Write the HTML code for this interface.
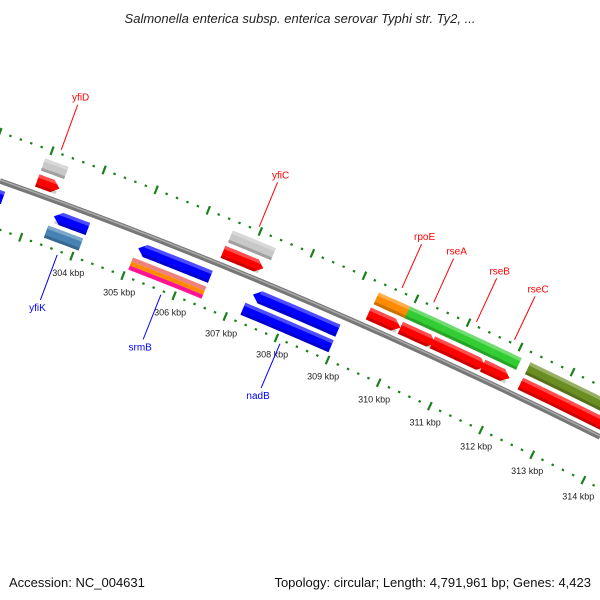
<!DOCTYPE html>
<html><head><meta charset="utf-8">
<style>
html,body{margin:0;padding:0;background:#fff;}
svg{display:block;font-family:"Liberation Sans",sans-serif;}
</style></head>
<body>
<svg id="map" width="600" height="600" viewBox="0 0 600 600" xmlns="http://www.w3.org/2000/svg">
<text x="300" y="23" text-anchor="middle" font-size="13" font-style="italic" fill="#222">Salmonella enterica subsp. enterica serovar Typhi str. Ty2, ...</text>
<path d="M0,181 Q300,287 600,437" fill="none" stroke="#777" stroke-width="5.5"/>
<path d="M0,180 Q300,286 600,436" fill="none" stroke="#aaa" stroke-width="1.5"/>
<g id="ticks"></g>
<g id="feats"></g>
<g id="labels"></g>
<text x="9" y="587" font-size="13" fill="#111">Accession: NC_004631</text>
<text x="591" y="587" text-anchor="end" font-size="13" fill="#111">Topology: circular; Length: 4,791,961 bp; Genes: 4,423</text>
</svg>
<script>
// data
const tickKbp = [301,302,303,304,305,306,307,308,309,310,311,312,313,314,315,316];
const tickLabels = ["304 kbp","305 kbp","306 kbp","307 kbp","308 kbp","309 kbp","310 kbp","311 kbp","312 kbp","313 kbp","314 kbp"];
const labelKbp = [304,305,306,307,308,309,310,311,312,313,314];
const featStart = [302.93,306.54,309.35,309.95,310.65,311.6,312.27, 302.93,306.52,309.33,309.95,310.57,311.54,312.27, 303.44,305.08,307.31,301.0, 303.4,305.05,307.24,301.0];
const featEnd   = [303.38,307.37,310.03,310.65,311.6,312.1,316.0, 303.36,307.3,309.95,310.63,311.6,312.06,316.0, 304.1,306.48,308.96,302.45, 304.08,306.48,308.96,302.2];
const featTrack = [-30,-30,-30,-30,-30,-30,-30, -13,-13,-13,-13,-13,-13,-13, 15,15,15,15, 32,32,32,32];
const featColor = ["#c8c8c8","#c8c8c8","#ff8c00","#32cd32","#32cd32","#32cd32","#6b8e23", "#ff0000","#ff0000","#ff0000","#ff0000","#ff0000","#ff0000","#ff0000", "#0000ff","#0000ff","#0000ff","#0000ff", "#4682b4","stripe","#0000ff","#ff1493"];
const featArrow = [0,0,0,0,0,0,0, 1,1,1,1,1,1,1, -1,-1,-1,-1, 0,0,0,0];
const geneNames = ["yfiD","yfiC","rpoE","rseA","rseB","rseC","yfiK","srmB","nadB"];
const geneKbp   = [303.15,306.95,309.69,310.3,311.12,311.85,303.74,305.77,308.1];
const geneSide  = [-1,-1,-1,-1,-1,-1,1,1,1];
const geneColor = ["#f00","#f00","#f00","#f00","#f00","#f00","#00f","#00f","#00f"];

const NS="http://www.w3.org/2000/svg";
function footX(k){return 88+51.6*(k-304);}
function P(k,d){
  const X=footX(k), t=X/600;
  const y=181*(1-t)*(1-t)+574*t*(1-t)+437*t*t;
  const m=(212+88*t)/600, L=Math.sqrt(1+m*m);
  return [X-d*m/L, y+d/L];
}
function pts(a){return a.map(p=>p[0].toFixed(1)+","+p[1].toFixed(1)).join(" ");}

const tg=document.getElementById('ticks');
for(const side of [-46,46]){
  for(let i=0;i<tickKbp.length-1;i++){
    for(let j=0;j<5;j++){
      const k=tickKbp[i]+j*0.2;
      const el=document.createElementNS(NS,'line');
      const len = j===0?4.5:1.1;
      const a=P(k,side-len), b=P(k,side+len);
      el.setAttribute('x1',a[0]);el.setAttribute('y1',a[1]);el.setAttribute('x2',b[0]);el.setAttribute('y2',b[1]);
      el.setAttribute('stroke','#1a801a');el.setAttribute('stroke-width',j===0?2.2:2.4);
      
      
      tg.appendChild(el);
    }
  }
}
for(let i=0;i<labelKbp.length;i++){
  const p=P(labelKbp[i],62);
  const el=document.createElementNS(NS,'text');
  el.setAttribute('x',p[0]+2);el.setAttribute('y',p[1]+5);
  el.setAttribute('text-anchor','middle');el.setAttribute('font-size','9');el.setAttribute('fill','#222');
  el.textContent=tickLabels[i];
  
  
  tg.appendChild(el);
}

const fg=document.getElementById('feats');
const H=6.5;
function shape(s,e,d,arrow){
  const n=6, top=[], bot=[];
  let s0=s, e0=e; const ah=7/51.6;
  if(arrow===1) e0=e-ah; if(arrow===-1) s0=s+ah;
  for(let i=0;i<=n;i++){const k=s0+(e0-s0)*i/n; top.push(P(k,d-H)); bot.push(P(k,d+H));}
  let poly=[];
  if(arrow===-1) poly.push(P(s,d));
  poly=poly.concat(top);
  if(arrow===1) poly.push(P(e,d));
  poly=poly.concat(bot.reverse());
  return poly;
}
for(let i=0;i<featStart.length;i++){
  const s=featStart[i], e=featEnd[i], d=featTrack[i];
  if(featColor[i]==='stripe'){
    const cols=["#f08080","#ff8c00","#ff1493"];
    for(let c=0;c<3;c++){
      const dd=d-H+ (c+0.5)*(2*H/3);
      const el=document.createElementNS(NS,'polygon');
      const top=[],bot=[];
      for(let q=0;q<=6;q++){const k=s+(e-s)*q/6; top.push(P(k,dd-H/3)); bot.push(P(k,dd+H/3));}
      el.setAttribute('points',pts(top.concat(bot.reverse())));
      el.setAttribute('fill',cols[c]);
      
      
      fg.appendChild(el);
    }
    continue;
  }
  const poly=shape(s,e,d,featArrow[i]);
  const el=document.createElementNS(NS,'polygon');
  el.setAttribute('points',pts(poly));
  el.setAttribute('fill',featColor[i]);
  
  
  fg.appendChild(el);
  const hi=document.createElementNS(NS,'polygon');
  const top=[],mid=[];
  for(let q=0;q<=6;q++){const k=s+(e-s)*q/6 * (featArrow[i]?0.93:1) + (featArrow[i]===-1?(e-s)*0.07:0); top.push(P(k,d-H)); mid.push(P(k,d-H+3.5));}
  hi.setAttribute('points',pts(top.concat(mid.reverse())));
  hi.setAttribute('fill','#fff');hi.setAttribute('fill-opacity','0.3');
  
  
  fg.appendChild(hi);
  const sh=document.createElementNS(NS,'polygon');
  const b1=[],b2=[];
  for(let q=0;q<=6;q++){const k=s+(e-s)*q/6 * (featArrow[i]?0.93:1) + (featArrow[i]===-1?(e-s)*0.07:0); b1.push(P(k,d+H-3)); b2.push(P(k,d+H));}
  sh.setAttribute('points',pts(b1.concat(b2.reverse())));
  sh.setAttribute('fill','#000');sh.setAttribute('fill-opacity','0.2');
  
  
  fg.appendChild(sh);
}

const lg=document.getElementById('labels');
for(let i=0;i<geneNames.length;i++){
  const side=geneSide[i];
  const a=P(geneKbp[i], side<0?-50:50), b=P(geneKbp[i], side<0?-98:98);
  const ln=document.createElementNS(NS,'line');
  ln.setAttribute('x1',a[0]);ln.setAttribute('y1',a[1]);ln.setAttribute('x2',b[0]);ln.setAttribute('y2',b[1]);
  ln.setAttribute('stroke',geneColor[i]);ln.setAttribute('stroke-width','1');
  
  
  lg.appendChild(ln);
  const tx=document.createElementNS(NS,'text');
  tx.setAttribute('x',b[0]+(side<0?3:-3));tx.setAttribute('y',side<0?b[1]-4:b[1]+11);
  tx.setAttribute('text-anchor','middle');tx.setAttribute('font-size','10');tx.setAttribute('fill',geneColor[i]);
  tx.textContent=geneNames[i];
  
  
  lg.appendChild(tx);
}
</script>
</body></html>
